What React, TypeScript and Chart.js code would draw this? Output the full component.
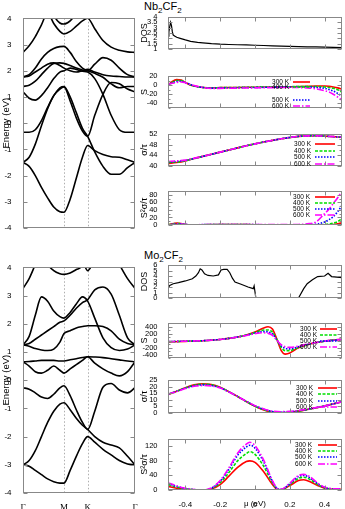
import React, { useEffect, useRef } from "react";
import { Chart, registerables } from "chart.js";
Chart.register(...registerables);

const SANS = "'Liberation Sans', Arial, sans-serif";
const SERIF = "'Liberation Serif', 'Times New Roman', serif";

// ---------- k path ----------
const kTicks = [0, 1, 1.577, 2.732];
const kLabels = ["Γ", "M", "K", "Γ"];
const energyTicks = [-4, -3, -2, -1, 0, 1, 2, 3, 4];
const kGrid = [0, 0.15, 0.3, 0.45, 0.6, 0.75, 0.9, 1.0, 1.15, 1.3, 1.45, 1.577, 1.75, 1.95, 2.15, 2.35, 2.55, 2.732];

// ---------- Nb2CF2 bands (eV) ----------
const nbBandA = [-1.5, -1.65, -2.0, -2.45, -2.85, -3.2, -3.38, -3.4, -2.9, -2.1, -1.3, -0.85, -1.05, -1.2, -1.28, -1.3, -1.4, -1.5];
const nbBandB = [-1.5, -1.3, -0.8, -0.1, 0.55, 1.05, 1.35, 1.4, 1.0, 0.4, -0.2, -0.5, -1.1, -1.65, -1.95, -1.95, -1.7, -1.5];
const nbBandC = [-0.35, -0.35, -0.25, 0.1, 0.6, 1.05, 1.3, 1.38, 0.85, 0.2, -0.3, -0.5, 0.3, 1.1, 1.55, 1.5, 1.3, 1.2];
const nbBandD = [1.2, 0.95, 0.88, 1.05, 1.35, 1.7, 1.95, 2.0, 2.1, 2.05, 1.98, 1.95, 1.7, 1.1, 0.3, -0.25, -0.35, -0.35];
const nbBandE = [1.4, 1.45, 1.6, 1.85, 2.1, 2.28, 2.3, 2.28, 2.2, 2.1, 2.03, 2.0, 2.25, 2.5, 2.4, 2.1, 1.85, 1.76];
const nbBandF = [1.76, 1.8, 1.95, 2.1, 2.25, 2.3, 2.2, 2.1, 2.0, 1.95, 2.0, 2.05, 1.95, 1.85, 1.8, 1.78, 1.76, 1.76];
const nbBandG = [1.76, 1.85, 2.1, 2.45, 2.7, 2.85, 2.92, 2.93, 2.7, 2.35, 2.1, 2.0, 1.9, 1.75, 1.5, 1.35, 1.4, 1.4];
const nbBandH = [2.7, 2.95, 3.3, 3.75, 4.2, 3.8, 3.5, 3.4, 3.5, 3.7, 3.9, 4.0, 3.6, 3.15, 2.9, 2.78, 2.72, 2.7];
const nbBandI = [5, 5, 5, 5, 4.6, 4.1, 3.82, 3.78, 3.9, 4.2, 4.6, 5, 5, 5, 5, 5, 5, 5];

// ---------- Mo2CF2 bands (eV) ----------
const moBandA = [-3.0, -3.05, -3.2, -3.35, -3.5, -3.6, -3.65, -3.65, -3.2, -2.7, -2.25, -2.0, -2.2, -2.45, -2.65, -2.85, -2.97, -3.0];
const moBandB = [-3.0, -2.85, -2.5, -2.0, -1.5, -1.1, -0.85, -0.8, -1.05, -1.35, -1.6, -1.75, -2.0, -2.2, -2.3, -2.4, -2.7, -3.0];
const moBandC = [-0.27, -0.32, -0.45, -0.6, -0.65, -0.5, -0.27, -0.2, -0.55, -1.05, -1.5, -1.75, -1.1, -0.25, -0.12, -0.35, -0.45, -0.27];
const moBandD = [0.65, 0.5, 0.3, 0.25, 0.35, 0.5, 0.35, 0.25, 0.4, 0.55, 0.7, 0.83, 0.6, 0.4, 0.25, 0.15, 0.3, 0.65];
const moBandE = [0.65, 0.66, 0.68, 0.7, 0.7, 0.7, 0.68, 0.68, 0.72, 0.76, 0.8, 0.83, 0.82, 0.8, 0.76, 0.72, 0.68, 0.65];
const moBandF = [1.25, 1.2, 1.12, 1.07, 1.05, 1.1, 1.35, 1.65, 1.75, 1.85, 1.9, 1.93, 1.93, 1.9, 1.75, 1.45, 1.3, 1.25];
const moBandG = [1.25, 1.55, 2.3, 2.95, 2.8, 2.45, 2.25, 2.2, 2.4, 2.7, 2.95, 2.8, 2.2, 1.5, 1.15, 1.05, 1.1, 1.25];
const moBandH = [1.25, 1.3, 1.45, 1.6, 1.75, 1.9, 2.05, 2.1, 2.3, 2.55, 2.75, 2.85, 3.2, 3.3, 3.05, 2.3, 1.5, 1.25];
const moBandI = [3.25, 3.6, 4.1, 4.6, 5, 5, 5, 5, 5, 5, 5, 5, 5, 5, 4.6, 4.1, 3.6, 3.25];
const moBandJ = [5, 5, 5, 5, 4.15, 3.88, 3.77, 3.75, 3.8, 3.92, 4.1, 5, 5, 5, 5, 5, 5, 5];
const moBandK = [5, 5, 5, 5, 5, 5, 5, 5, 5, 5, 4.3, 3.88, 4.3, 5, 5, 5, 5, 5];

// ---------- transport axes ----------
const muTicks = [-0.4, -0.2, 0, 0.2, 0.4];
const tempLabels = ["300 K", "400 K", "500 K", "600 K"];

// Nb2CF2 DOS
const nbDosMu = [-0.5, -0.495, -0.49, -0.485, -0.48, -0.475, -0.47, -0.46, -0.45, -0.43, -0.4, -0.37, -0.33, -0.3, -0.25, -0.2, -0.15, -0.1, -0.05, 0, 0.05, 0.1, 0.15, 0.2, 0.25, 0.3, 0.35, 0.4, 0.45, 0.5];
const nbDos = [2.2, 2.6, 3.1, 3.5, 3.2, 2.6, 2.3, 2.2, 2.1, 2.0, 1.85, 1.72, 1.62, 1.57, 1.5, 1.45, 1.42, 1.4, 1.38, 1.35, 1.33, 1.3, 1.27, 1.24, 1.22, 1.2, 1.19, 1.17, 1.15, 1.14];
const nbDosTicks = [1, 1.5, 2, 2.5, 3, 3.5, 4];

// Nb2CF2 Seebeck
const nbSMu = [-0.5, -0.475, -0.45, -0.425, -0.4, -0.375, -0.35, -0.3, -0.25, -0.2, -0.1, 0, 0.1, 0.2, 0.3, 0.35, 0.4, 0.425, 0.45, 0.475, 0.5];
const nbS300 = [0, 8, 12, 11, 6, 1, -2, -5, -6, -5.5, -5, -4.5, -4, -3.5, -2.5, -2, -2, -2.5, -4, -6, -9];
const nbS400 = [0, 6, 10, 10, 6, 1, -2, -5, -6, -5.5, -5, -4.5, -4, -3.5, -3, -3, -4, -5, -7, -10, -15];
const nbS500 = [1, 5, 8, 8.5, 6, 2, -1.5, -5, -6.5, -6, -5.5, -5, -4.5, -4, -4, -5, -7, -9.5, -13, -18, -24];
const nbS600 = [2, 4, 6, 7, 5.5, 2, -1, -5, -7, -7, -6.5, -6, -5.5, -5, -6, -8, -12, -15, -20, -26, -33];
const nbSTicks = [-40, -20, 0, 20];

// Nb2CF2 sigma/tau
const nbSigMu = [-0.5, -0.45, -0.4, -0.35, -0.3, -0.25, -0.2, -0.15, -0.1, -0.05, 0, 0.05, 0.1, 0.15, 0.2, 0.25, 0.3, 0.35, 0.4, 0.45, 0.5];
const nbSig300 = [41.0, 41.3, 41.9, 42.8, 43.6, 44.4, 45.2, 46.0, 46.8, 47.6, 48.3, 49.0, 49.6, 50.2, 50.7, 51.1, 51.3, 51.35, 51.2, 51.0, 50.8];
const nbSig400 = [41.3, 41.5, 42.0, 42.8, 43.6, 44.4, 45.2, 46.0, 46.8, 47.6, 48.3, 49.0, 49.6, 50.2, 50.7, 51.1, 51.3, 51.35, 51.2, 51.0, 50.8];
const nbSig500 = [41.5, 41.7, 42.1, 42.8, 43.6, 44.4, 45.2, 46.0, 46.8, 47.6, 48.3, 49.0, 49.6, 50.2, 50.7, 51.1, 51.3, 51.35, 51.2, 51.0, 50.8];
const nbSig600 = [41.7, 41.9, 42.2, 42.9, 43.6, 44.4, 45.2, 46.0, 46.8, 47.6, 48.3, 49.0, 49.6, 50.2, 50.7, 51.1, 51.3, 51.35, 51.2, 51.0, 50.8];
const nbSigTicks = [40, 44, 48, 52];

// Nb2CF2 power factor
const nbPfMu = [-0.5, -0.475, -0.45, -0.425, -0.4, -0.375, -0.35, -0.3, -0.2, -0.1, 0, 0.1, 0.2, 0.25, 0.3, 0.35, 0.4, 0.425, 0.45, 0.475, 0.5];
const nbPf300 = [0.5, 3.5, 5, 4, 1.5, 0.3, 0.1, 0.8, 1.2, 1, 0.8, 0.6, 0.4, 0.3, 0.2, 0.1, 0.2, 0.5, 1, 3, 6];
const nbPf400 = [0.3, 2.5, 4, 3.5, 1.5, 0.3, 0.1, 0.8, 1.2, 1, 0.8, 0.6, 0.4, 0.3, 0.3, 0.5, 1.2, 2.5, 5, 9, 17];
const nbPf500 = [0.2, 1.8, 3, 3, 1.5, 0.4, 0.2, 1.0, 1.3, 1.1, 0.9, 0.7, 0.6, 0.7, 1.0, 2, 8, 14, 22, 35, 52];
const nbPf600 = [0.1, 1.2, 2.2, 2.4, 1.6, 0.6, 0.4, 1.1, 1.3, 1.2, 1.0, 0.9, 1.0, 1.5, 3, 8, 30, 42, 57, 72, 90];
const nbPfTicks = [0, 20, 40, 60, 80];

// Mo2CF2 DOS
const moDosMu = [-0.5, -0.49, -0.47, -0.44, -0.4, -0.36, -0.34, -0.325, -0.315, -0.305, -0.29, -0.27, -0.24, -0.21, -0.195, -0.18, -0.16, -0.145, -0.13, -0.115, -0.08, -0.04, -0.01, -0.005, 0.005, 0.25, 0.28, 0.3, 0.33, 0.36, 0.4, 0.42, 0.44, 0.47, 0.5];
const moDos = [1.8, 2.3, 2.6, 2.8, 3.1, 3.5, 4.0, 4.6, 5.3, 5.1, 4.4, 4.1, 4.0, 4.2, 5.1, 5.2, 5.2, 4.6, 3.6, 2.9, 2.5, 2.0, 1.7, 2.2, 0, 0, 1.7, 2.6, 3.3, 3.9, 4.0, 4.5, 3.9, 3.8, 3.7];
const moDosTicks = [0, 1, 2, 3, 4, 5, 6];

// Mo2CF2 Seebeck
const moSMu = [-0.5, -0.4, -0.3, -0.2, -0.15, -0.1, -0.05, 0, 0.025, 0.05, 0.075, 0.1, 0.125, 0.15, 0.175, 0.2, 0.225, 0.25, 0.3, 0.35, 0.4, 0.45, 0.5];
const moS300 = [-40, -25, -5, 30, 60, 100, 160, 240, 300, 360, 395, 330, 50, -280, -390, -360, -280, -210, -120, -60, -20, 10, 30];
const moS400 = [-35, -20, -5, 30, 60, 100, 155, 225, 270, 300, 300, 240, 30, -200, -290, -290, -250, -200, -120, -60, -20, 10, 30];
const moS500 = [-30, -20, -5, 30, 60, 100, 150, 210, 240, 255, 245, 190, 20, -150, -225, -240, -215, -180, -115, -60, -20, 10, 30];
const moS600 = [-30, -20, -5, 30, 60, 100, 145, 195, 215, 220, 205, 150, 10, -120, -180, -195, -185, -160, -105, -55, -18, 10, 30];
const moSTicks = [-400, -200, 0, 200, 400];

// Mo2CF2 sigma/tau
const moSigMu = [-0.5, -0.45, -0.4, -0.35, -0.3, -0.25, -0.2, -0.15, -0.1, -0.05, 0, 0.05, 0.1, 0.15, 0.2, 0.25, 0.3, 0.35, 0.4, 0.45, 0.5];
const moSig300 = [14.0, 16.5, 19.2, 21.3, 22.2, 21.6, 19.5, 16.2, 12.5, 8.6, 5.0, 2.2, 0.5, 0.1, 0.5, 1.4, 2.6, 3.9, 5.3, 6.9, 8.5];
const moSig400 = [14.1, 16.5, 19.0, 21.0, 21.8, 21.3, 19.3, 16.1, 12.5, 8.7, 5.2, 2.5, 0.8, 0.3, 0.7, 1.5, 2.6, 3.9, 5.3, 6.9, 8.5];
const moSig500 = [14.2, 16.4, 18.8, 20.6, 21.3, 20.9, 19.1, 16.0, 12.5, 8.8, 5.4, 2.8, 1.1, 0.6, 0.9, 1.7, 2.7, 4.0, 5.3, 6.9, 8.5];
const moSig600 = [14.3, 16.3, 18.5, 20.2, 20.8, 20.5, 18.9, 15.9, 12.5, 8.9, 5.6, 3.1, 1.5, 1.0, 1.2, 1.9, 2.9, 4.1, 5.4, 6.9, 8.5];
const moSigTicks = [0, 5, 10, 15, 20, 25];

// Mo2CF2 power factor
const moPfMu = [-0.5, -0.45, -0.4, -0.35, -0.3, -0.25, -0.2, -0.15, -0.1, -0.05, -0.03, 0, 0.05, 0.1, 0.13, 0.15, 0.2, 0.25, 0.28, 0.32, 0.36, 0.4, 0.45, 0.5];
const moPf300 = [10, 5, 2, 0.5, 0, 3, 15, 38, 62, 78, 80, 76, 50, 15, 1, 0.5, 12, 26, 28, 22, 12, 5, 2, 2];
const moPf400 = [15, 8, 3, 0.7, 0, 4, 20, 48, 80, 100, 105, 98, 65, 20, 2, 1, 15, 32, 35, 28, 15, 6, 2.5, 2.5];
const moPf500 = [18, 10, 4, 1, 0, 5, 24, 57, 95, 118, 123, 115, 77, 24, 3, 1.5, 17, 37, 40, 32, 17, 7, 3, 3];
const moPf600 = [20, 11, 4.5, 1, 0, 6, 26, 61, 101, 126, 131, 122, 82, 26, 3.5, 2, 19, 40, 43, 35, 19, 8, 3.5, 3];
const moPfTicks = [0, 40, 80, 120];

// ---------- styles ----------
const tempColors = ["#ff0000", "#00e000", "#0000ff", "#ff00ff"];
const tempDashes: number[][] = [[], [3, 1.5], [1.5, 1.5], [7, 2, 1.5, 2]];

type Box = { left: number; top: number; width: number; height: number };

const framePlugin = {
  id: "frame",
  beforeDatasetsDraw(chart: any, _a: any, opts: any) {
    const { ctx, chartArea: a, scales } = chart;
    ctx.save();
    if (opts.vlines) {
      ctx.strokeStyle = "#999";
      ctx.lineWidth = 0.8;
      ctx.setLineDash([1.5, 2]);
      for (const v of opts.vlines) {
        const x = Math.round(scales.x.getPixelForValue(v)) + 0.5;
        ctx.beginPath();
        ctx.moveTo(x, a.top);
        ctx.lineTo(x, a.bottom);
        ctx.stroke();
      }
      ctx.setLineDash([]);
    }
    ctx.restore();
  },
  afterDraw(chart: any, _a: any, opts: any) {
    const { ctx, chartArea: a, scales } = chart;
    ctx.save();
    ctx.strokeStyle = "#888";
    ctx.lineWidth = 1;
    const L = Math.round(a.left) + 0.5, R = Math.round(a.right) - 0.5;
    const T = Math.round(a.top) + 0.5, B = Math.round(a.bottom) - 0.5;
    ctx.strokeRect(L, T, R - L, B - T);
    const len = opts.tickLen ?? 4;
    ctx.beginPath();
    for (const [vals, l] of [[opts.yTicks || [], len], [opts.yMinor || [], len / 2]] as any) {
      for (const v of vals) {
        const y = Math.round(scales.y.getPixelForValue(v)) + 0.5;
        ctx.moveTo(L, y); ctx.lineTo(L + l, y);
        ctx.moveTo(R, y); ctx.lineTo(R - l, y);
      }
    }
    for (const [vals, l] of [[opts.xTicks || [], len], [opts.xMinor || [], len / 2]] as any) {
      for (const v of vals) {
        const x = Math.round(scales.x.getPixelForValue(v)) + 0.5;
        ctx.moveTo(x, T); ctx.lineTo(x, T + l);
        ctx.moveTo(x, B); ctx.lineTo(x, B - l);
      }
    }
    ctx.stroke();
    if (opts.legend) {
      const lg = opts.legend;
      ctx.font = `${lg.size}px ${SANS}`;
      ctx.textAlign = "right";
      ctx.textBaseline = "middle";
      chart.data.datasets.forEach((ds: any, i: number) => {
        const y = a.top + lg.rows[i];
        ctx.fillStyle = "#000";
        ctx.fillText(ds.label, a.left + lg.textRight, y);
        ctx.strokeStyle = ds.borderColor;
        ctx.lineWidth = ds.borderWidth;
        ctx.setLineDash(ds.borderDash || []);
        ctx.beginPath();
        ctx.moveTo(a.left + lg.lineFrom, y);
        ctx.lineTo(a.left + lg.lineTo, y);
        ctx.stroke();
        ctx.setLineDash([]);
      });
    }
    ctx.restore();
  },
};

function ChartBox({ box, config }: { box: Box; config: () => any }) {
  const ref = useRef<HTMLCanvasElement>(null);
  useEffect(() => {
    const chart = new Chart(ref.current as HTMLCanvasElement, config());
    return () => chart.destroy();
  }, []);
  return (
    <div style={{ position: "absolute", left: box.left, top: box.top, width: box.width, height: box.height }}>
      <canvas ref={ref} width={box.width} height={box.height} style={{ width: box.width, height: box.height, display: "block" }} />
    </div>
  );
}

function fixedTicks(values: number[]) {
  return (scale: any) => {
    scale.ticks = values.map((v) => ({ value: v }));
  };
}

function bandConfig(bands: number[][], showX: boolean) {
  return () => ({
    type: "line",
    data: {
      datasets: bands.map((b) => ({
        data: kGrid.map((k, i) => ({ x: k, y: b[i] })),
        borderColor: "#000",
        borderWidth: 1.6,
        pointRadius: 0,
        cubicInterpolationMode: "monotone",
        fill: false,
      })),
    },
    options: {
      responsive: false,
      animation: false,
      events: [],
      layout: { padding: { top: 6, bottom: showX ? 0 : 6, left: 0, right: 10 } },
      plugins: {
        legend: { display: false },
        tooltip: { enabled: false },
        frame: { yTicks: energyTicks, vlines: [kTicks[1], kTicks[2]], tickLen: 4 },
      },
      scales: {
        x: {
          type: "linear",
          min: 0,
          max: kTicks[3],
          display: showX,
          grid: { display: false },
          border: { display: false },
          afterBuildTicks: fixedTicks(kTicks),
          afterFit: (s: any) => { s.height = 16; },
          ticks: {
            padding: 1,
            color: "#000",
            font: { family: SERIF, size: 9 },
            maxRotation: 0,
            autoSkip: false,
            callback: (v: number) => kLabels[kTicks.indexOf(v)] ?? "",
          },
        },
        y: {
          min: -4,
          max: 4,
          grid: { display: false },
          border: { display: false },
          afterBuildTicks: fixedTicks(energyTicks),
          afterFit: (s: any) => { s.width = 23; },
          ticks: { padding: 3.5, autoSkip: false, color: "#000", font: { family: SANS, size: 8 }, callback: (v: number) => String(v) },
          title: { display: true, text: "Energy (eV)", color: "#000", font: { family: SANS, size: 9.5 }, padding: { top: 1, bottom: 0 } },
        },
      },
    },
    plugins: [framePlugin],
  });
}

function tempDatasets(mu: number[], series: number[][]) {
  return series.map((s, j) => ({
    label: tempLabels[j],
    data: mu.map((x, i) => ({ x, y: s[i] })),
    borderColor: tempColors[j],
    borderDash: tempDashes[j],
    borderWidth: 1.6,
    pointRadius: 0,
    cubicInterpolationMode: "monotone",
    fill: false,
    order: 4 - j,
  }));
}

function dosDataset(mu: number[], dos: number[]) {
  return [{ data: mu.map((x, i) => ({ x, y: dos[i] })), borderColor: "#000", borderWidth: 1.2, pointRadius: 0, tension: 0, fill: false }];
}

function panelConfig(p: {
  datasets: any[];
  yMin: number; yMax: number; yTicks: number[]; yMinor?: number[];
  title: string; showX: boolean; legend?: any;
}) {
  return () => ({
    type: "line",
    data: { datasets: p.datasets },
    options: {
      responsive: false,
      animation: false,
      events: [],
      layout: { padding: { top: 6, bottom: p.showX ? 0 : 6, left: 0, right: 3 } },
      plugins: {
        legend: { display: false },
        tooltip: { enabled: false },
        frame: { yTicks: p.yTicks, yMinor: p.yMinor, xTicks: muTicks, tickLen: 4, legend: p.legend },
      },
      scales: {
        x: {
          type: "linear",
          min: -0.5,
          max: 0.5,
          display: p.showX,
          grid: { display: false },
          border: { display: false },
          afterBuildTicks: fixedTicks(muTicks),
          afterFit: (s: any) => { s.height = 19; },
          ticks: { padding: 2, color: "#000", font: { family: SANS, size: 8 }, maxRotation: 0, autoSkip: false, callback: (v: number) => String(v) },
          title: { display: p.showX, text: "μ (eV)", color: "#000", font: { family: SANS, size: 8 }, padding: { top: 0, bottom: 0 } },
        },
        y: {
          min: p.yMin,
          max: p.yMax,
          grid: { display: false },
          border: { display: false },
          afterBuildTicks: fixedTicks(p.yTicks),
          afterFit: (s: any) => { s.width = 38; },
          ticks: { padding: 2.5, autoSkip: false, color: "#000", font: { family: SANS, size: 7.5 }, callback: (v: number) => String(v) },
          title: { display: true, text: p.title, color: "#000", font: { family: SANS, size: 9 }, padding: { top: 9, bottom: 0 } },
        },
      },
    },
    plugins: [framePlugin],
  });
}

const RX = 130;
const RW = 215;
function rbox(plotTop: number, plotBottom: number, showX = false): Box {
  return { left: RX, top: plotTop - 6, width: RW, height: plotBottom - plotTop + 6 + (showX ? 19 : 6) };
}

const LG = 6.5;

export default function App() {
  const nbBands = [nbBandA, nbBandB, nbBandC, nbBandD, nbBandE, nbBandF, nbBandG, nbBandH, nbBandI];
  const moBands = [moBandA, moBandB, moBandC, moBandD, moBandE, moBandF, moBandG, moBandH, moBandI, moBandJ, moBandK];
  return (
    <div style={{ position: "fixed", left: 0, top: 0, width: 345, height: 509, background: "#fff", overflow: "hidden", fontFamily: SANS }}>
      <div style={{ position: "absolute", left: 144, top: 0, fontSize: 11, lineHeight: "12px", whiteSpace: "nowrap" }}>
        Nb<sub style={{ fontSize: 8 }}>2</sub>CF<sub style={{ fontSize: 8 }}>2</sub>
      </div>
      <div style={{ position: "absolute", left: 144, top: 249, fontSize: 11, lineHeight: "12px", whiteSpace: "nowrap" }}>
        Mo<sub style={{ fontSize: 8 }}>2</sub>CF<sub style={{ fontSize: 8 }}>2</sub>
      </div>
      <ChartBox box={{ left: 0, top: 10, width: 145, height: 240 }} config={bandConfig(nbBands, false)} />
      <ChartBox box={{ left: 0, top: 259, width: 145, height: 250 }} config={bandConfig(moBands, true)} />

      <ChartBox box={rbox(16, 68)} config={panelConfig({ datasets: dosDataset(nbDosMu, nbDos), yMin: 1, yMax: 4, yTicks: nbDosTicks, title: "DOS", showX: false })} />
      <ChartBox box={rbox(75, 127)} config={panelConfig({ datasets: tempDatasets(nbSMu, [nbS300, nbS400, nbS500, nbS600]), yMin: -50, yMax: 20, yTicks: nbSTicks, yMinor: [-50, -30, -10, 10], title: "S", showX: false, legend: { size: LG, textRight: 121, lineFrom: 125, lineTo: 142, rows: [6, 11, 24, 30] } })} />
      <ChartBox box={rbox(133, 185)} config={panelConfig({ datasets: tempDatasets(nbSigMu, [nbSig300, nbSig400, nbSig500, nbSig600]), yMin: 40, yMax: 52, yTicks: nbSigTicks, yMinor: [42, 46, 50], title: "σ/τ", showX: false, legend: { size: LG, textRight: 143, lineFrom: 147, lineTo: 167, rows: [10, 17, 23, 30] } })} />
      <ChartBox box={rbox(190, 244)} config={panelConfig({ datasets: tempDatasets(nbPfMu, [nbPf300, nbPf400, nbPf500, nbPf600]), yMin: 0, yMax: 90, yTicks: nbPfTicks, yMinor: [10, 30, 50, 70], title: "S²σ/τ", showX: false, legend: { size: LG, textRight: 142, lineFrom: 147, lineTo: 167, rows: [6, 12, 18, 24] } })} />

      <ChartBox box={rbox(264, 317)} config={panelConfig({ datasets: dosDataset(moDosMu, moDos), yMin: 0, yMax: 6, yTicks: moDosTicks, title: "DOS", showX: false })} />
      <ChartBox box={rbox(322, 377)} config={panelConfig({ datasets: tempDatasets(moSMu, [moS300, moS400, moS500, moS600]), yMin: -500, yMax: 500, yTicks: moSTicks, yMinor: [-500, -300, -100, 100, 300, 500], title: "S", showX: false, legend: { size: LG, textRight: 149, lineFrom: 152, lineTo: 169, rows: [6, 12, 18, 24] } })} />
      <ChartBox box={rbox(379, 432)} config={panelConfig({ datasets: tempDatasets(moSigMu, [moSig300, moSig400, moSig500, moSig600]), yMin: 0, yMax: 25, yTicks: moSigTicks, title: "σ/τ", showX: false, legend: { size: LG, textRight: 145, lineFrom: 150, lineTo: 169, rows: [8, 14, 21, 27] } })} />
      <ChartBox box={rbox(438, 490, true)} config={panelConfig({ datasets: tempDatasets(moPfMu, [moPf300, moPf400, moPf500, moPf600]), yMin: 0, yMax: 140, yTicks: moPfTicks, yMinor: [20, 60, 100, 140], title: "S²σ/τ", showX: true, legend: { size: LG, textRight: 144, lineFrom: 150, lineTo: 169, rows: [6, 12, 18, 25] } })} />
    </div>
  );
}
